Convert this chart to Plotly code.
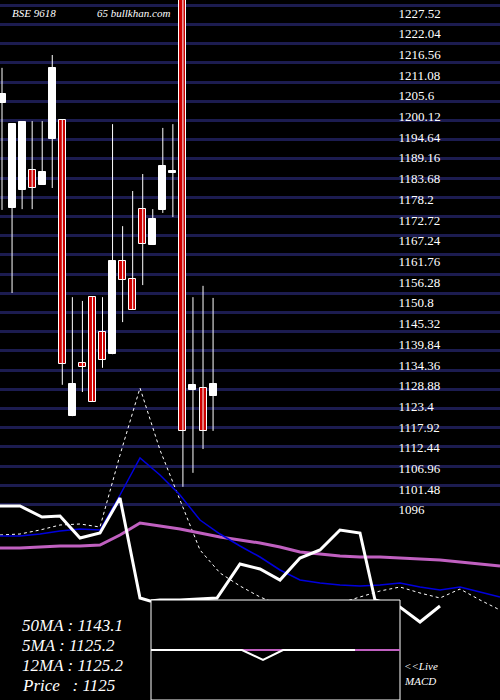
import plotly.graph_objects as go

# Candles (price units)
opens  = [1203.7,1175.9,1180.7,1186.0,1182.0,1194.2,1199.2,1120.8,1134.9,1152.3,1143.1,1137.2,1161.9,1157.1,1175.6,1166.1,1175.4,1185.2,1245.0,1127.7,1128.3,1126.1]
highs  = [1213.0,1198.1,1198.9,1198.9,1198.9,1216.4,1199.2,1152.3,1151.3,1152.3,1152.3,1198.1,1171.1,1180.4,1184.9,1175.6,1197.1,1198.1,1245.0,1152.3,1155.3,1152.1]
lows   = [1175.4,1153.4,1175.6,1175.6,1182.0,1181.2,1129.1,1120.8,1127.2,1124.6,1133.6,1137.2,1145.7,1148.9,1155.5,1166.1,1174.6,1173.5,1102.1,1105.8,1112.1,1116.9]
closes = [1206.1,1198.1,1198.7,1181.2,1185.4,1213.0,1134.6,1129.3,1133.8,1124.6,1135.7,1161.9,1156.9,1148.9,1166.4,1173.0,1187.0,1185.2,1116.9,1129.1,1116.9,1129.3]
price_ticks = [1227.52,1222.04,1216.56,1211.08,1205.6,1200.12,1194.64,1189.16,1183.68,1178.2,1172.72,1167.24,
               1161.76,1156.28,1150.8,1145.32,1139.84,1134.36,1128.88,1123.4,1117.92,1112.44,1106.96,1101.48,1096]

# Lower indicator panel (panel units, inverted)
ma_white  = [506,506,517,516,538,533,498,598,601,600,600,598,564,569,580,558,550,530,533,600,607,622,606]
ma_blue   = [536,536,534,531,529,530,495,458,475,495,520,534,546,557,570,580,583,585,586,585,583,587,590,587,592,597]
ma_mag    = [548,548,547,546,546,545,535,523,526,529,533,537,540,543,547,552,554,556,557,557,558,559,560,562,564,566]
ma_dot    = [535,534,530,525,524,527,455,388,450,500,550,573,586,597,605,610,608,603,597,591,587,593,598,589,600,610]
ma_white_x= [0,1,2.1,3,4,5,6,7,7.5,8,9,10.85,12,13,14,15,16,17,18,18.75,20,21,22]
macd_x    = [7.55,12.1,13.15,14.15,17.75]
macd_y    = [650,650,660,650,650]
macd_sig_x= [12.1,14.15,17.75,20]
macd_sig_y= [650,650,650,650]
box_x = [7.55,20,20,7.55,7.55]
box_y = [600,600,700,700,600]

RED = "#cc0000"
fig = go.Figure()
fig.add_trace(go.Scatter(x=[None], y=[None], yaxis="y3"))

n = len(opens)
wx, wy = [], []
for i in range(n):
    wx += [i, i, None]; wy += [lows[i], highs[i], None]
fig.add_trace(go.Scatter(x=wx, y=wy, mode="lines", line=dict(color="white", width=1), hoverinfo="skip"))
base = [min(o, c) for o, c in zip(opens, closes)]
hgt = [max(abs(c - o), 0.4) for o, c in zip(opens, closes)]
cols = ["white" if c >= o else RED for o, c in zip(opens, closes)]
fig.add_trace(go.Bar(x=list(range(n)), y=hgt, base=base, width=0.7,
                     marker=dict(color=cols, line=dict(color="white", width=1))))

kx = list(range(26))
fig.add_trace(go.Scatter(x=kx, y=ma_dot, xaxis="x2", yaxis="y2", mode="lines",
                         line=dict(color="white", width=1, dash="dot")))
fig.add_trace(go.Scatter(x=kx, y=ma_mag, xaxis="x2", yaxis="y2", mode="lines",
                         line=dict(color="#c060c0", width=3)))
fig.add_trace(go.Scatter(x=kx, y=ma_blue, xaxis="x2", yaxis="y2", mode="lines",
                         line=dict(color="#0000dd", width=1.5)))
fig.add_trace(go.Scatter(x=ma_white_x, y=ma_white, xaxis="x2", yaxis="y2", mode="lines",
                         line=dict(color="white", width=3)))
fig.add_trace(go.Scatter(x=box_x, y=box_y, xaxis="x2", yaxis="y2", mode="lines", fill="toself",
                         fillcolor="black", line=dict(color="white", width=1)))
fig.add_trace(go.Scatter(x=macd_sig_x, y=macd_sig_y, xaxis="x2", yaxis="y2", mode="lines",
                         line=dict(color="#c060c0", width=2)))
fig.add_trace(go.Scatter(x=macd_x, y=macd_y, xaxis="x2", yaxis="y2",
                         mode="lines", line=dict(color="white", width=2)))

grid_pos = [5.3 + 19.2 * k for k in range(27)]
serif = "Liberation Serif"
fig.update_layout(
    width=500, height=700, margin=dict(l=0, r=0, t=0, b=0, pad=0, autoexpand=False),
    paper_bgcolor="black", plot_bgcolor="black", showlegend=False, bargap=0,
    xaxis=dict(range=[-0.2, 49.55], visible=False, fixedrange=True),
    yaxis=dict(range=[1230.96 - 0.2647 * 700, 1230.96], anchor="free", position=0.795, side="right",
               tickvals=price_ticks, ticktext=[f"{v:g}" for v in price_ticks],
               showgrid=False, zeroline=False, showline=False, ticks="", ticklen=0,
               tickfont=dict(family=serif, size=13, color="white"), automargin=False),
    xaxis2=dict(range=[0, 25], overlaying="x", visible=False),
    yaxis2=dict(range=[700, 0], overlaying="y", visible=False),
    yaxis3=dict(range=[700, 0], overlaying="y", tickmode="array", tickvals=grid_pos,
                showgrid=True, gridcolor="#1c1c50", gridwidth=3, showticklabels=False, zeroline=False),
)
ann = [
    ("BSE 9618", 10, 13, 11), ("65 bullkhan.com", 95, 13, 11),
    ("50MA : 1143.1", 20, 625, 17), ("5MA : 1125.2", 20, 645, 17),
    ("12MA : 1125.2", 20, 665, 17), ("Price   : 1125", 20, 685, 17),
    ("<<Live", 402, 666, 11), ("MACD", 402, 681, 11),
]
for t, x, y, s in ann:
    fig.add_annotation(text=f"<i>{t}</i>", x=x / 500, y=1 - y / 700, xref="paper", yref="paper",
                       xanchor="left", yanchor="middle", showarrow=False,
                       font=dict(family=serif, size=s, color="white"))

fig.write_html("out.html", config={"displayModeBar": False},
               post_script="document.body.style.margin='0';")
